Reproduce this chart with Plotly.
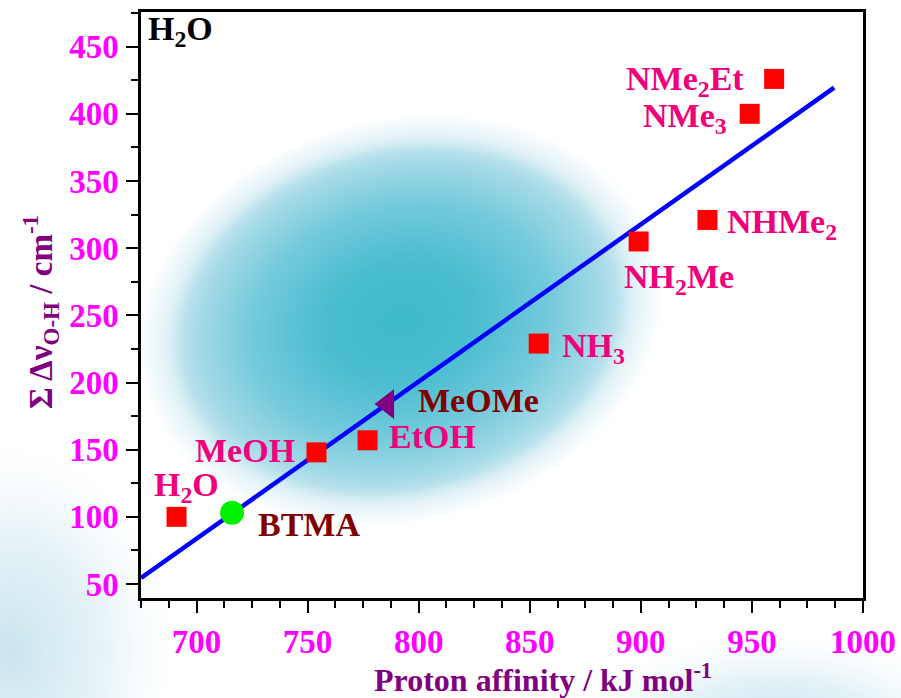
import base64, struct, zlib
import numpy as np
import plotly.graph_objects as go

# ---------------- data ----------------
names = ["H<sub>2</sub>O", "MeOH", "EtOH", "NH<sub>3</sub>", "NH<sub>2</sub>Me",
         "NHMe<sub>2</sub>", "NMe<sub>3</sub>", "NMe<sub>2</sub>Et"]
pa = [691, 754, 777, 854, 899, 930, 949, 960]
dnu = [100, 148, 157, 229, 305, 321, 400, 426]

btma_name = "BTMA"
btma_pa = [716]
btma_dnu = [103]

meome_name = "MeOMe"
meome_pa = [786]
meome_dnu = [184]

fit_pa = [675, 987]
fit_dnu = [54.5, 419.5]

x_ticks = [700, 750, 800, 850, 900, 950, 1000]
y_ticks = [50, 100, 150, 200, 250, 300, 350, 400, 450]

# label placement (pixels): anchor, xshift, yshift
label_pos = {
    "H<sub>2</sub>O": ("center", 10, 30),
    "MeOH": ("right", -20, 2),
    "EtOH": ("left", 19, 4),
    "NH<sub>3</sub>": ("left", 21, -4),
    "NH<sub>2</sub>Me": ("center", 40, -38),
    "NHMe<sub>2</sub>": ("left", 18, -4),
    "NMe<sub>3</sub>": ("right", -21, -4),
    "NMe<sub>2</sub>Et": ("right", -28, -2),
}

# ---------------- background image ----------------
W, H = 901, 698
yy, xx = np.mgrid[0:H, 0:W].astype(float)
img = np.ones((H, W, 3)) * 255.0


def blend_blob(img, cx, cy, rx, ry, ang, stops_d, stops_c, alpha_d, alpha_v):
    a = np.deg2rad(ang)
    dx, dy = xx - cx, yy - cy
    u = dx * np.cos(a) - dy * np.sin(a)
    v = dx * np.sin(a) + dy * np.cos(a)
    d = np.sqrt((u / rx) ** 2 + (v / ry) ** 2)
    col = np.stack([np.interp(d, stops_d, [c[i] for c in stops_c]) for i in range(3)], axis=-1)
    al = np.interp(d, alpha_d, alpha_v)[..., None]
    return img * (1 - al) + col * al


img = blend_blob(img, 400, 320, 250, 190, 14,
                 [0, 0.3, 0.6, 0.82, 0.95],
                 [(64, 185, 205), (74, 189, 208), (115, 202, 220), (165, 218, 231), (208, 235, 243)],
                 [0, 0.88, 1.06], [1, 1, 0])
img = blend_blob(img, 10, 650, 150, 190, 0,
                 [0, 1], [(202, 229, 238), (235, 246, 250)],
                 [0, 0.6, 1.05], [1, 0.75, 0])
img = blend_blob(img, 775, 735, 190, 95, 0,
                 [0, 1], [(195, 228, 238), (235, 246, 250)],
                 [0, 0.6, 1.05], [1, 0.75, 0])
img = np.clip(img, 0, 255).astype(np.uint8)


def to_png(arr):
    h, w, _ = arr.shape
    raw = b"".join(b"\x00" + arr[i].tobytes() for i in range(h))

    def chunk(t, d):
        return struct.pack(">I", len(d)) + t + d + struct.pack(">I", zlib.crc32(t + d) & 0xffffffff)

    return (b"\x89PNG\r\n\x1a\n" + chunk(b"IHDR", struct.pack(">IIBBBBB", w, h, 8, 2, 0, 0, 0))
            + chunk(b"IDAT", zlib.compress(raw, 9)) + chunk(b"IEND", b""))


bg_src = "data:image/png;base64," + base64.b64encode(to_png(img)).decode()

# ---------------- figure ----------------
L, R, T, B = 141, 38, 12, 100
PW, PH = W - L - R, H - T - B

label_font = dict(family="Liberation Serif", size=34, color="#f0007a", weight="bold")
dark_font = dict(family="Liberation Serif", size=34, color="#800000", weight="bold")

fig = go.Figure()
fig.add_trace(go.Scatter(x=fit_pa, y=fit_dnu, mode="lines",
                         line=dict(color="#0000ff", width=4.5), hoverinfo="skip"))
fig.add_trace(go.Scatter(x=pa, y=dnu, mode="markers",
                         marker=dict(symbol="square", size=20, color="#ff0000")))
fig.add_trace(go.Scatter(x=btma_pa, y=btma_dnu, mode="markers",
                         marker=dict(symbol="circle", size=24, color="#00ee00")))
fig.add_trace(go.Scatter(x=meome_pa, y=meome_dnu, mode="markers",
                         marker=dict(symbol="triangle-left", size=26, color="#800080")))

ann = []
for n, x, y in zip(names, pa, dnu):
    anc, xs, ys = label_pos[n]
    ann.append(dict(x=x, y=y, text=n, showarrow=False, xanchor=anc, yanchor="middle",
                    xshift=xs, yshift=ys, font=label_font))
ann.append(dict(x=btma_pa[0], y=btma_dnu[0], text=btma_name, showarrow=False, xanchor="left",
                yanchor="middle", xshift=24, yshift=-12, font=dark_font))
ann.append(dict(x=meome_pa[0], y=meome_dnu[0], text=meome_name, showarrow=False, xanchor="left",
                yanchor="middle", xshift=28, yshift=4, font=dark_font))

# corner label and axis titles
ann.append(dict(xref="paper", yref="paper", x=(146 - L) / PW, y=(598 - 31) / PH,
                text="H<sub>2</sub>O", showarrow=False, xanchor="left", yanchor="middle",
                font=dict(family="Liberation Serif", size=34, color="black", weight="bold")))
ann.append(dict(xref="paper", yref="paper", x=(543 - L) / PW, y=(598 - 678) / PH,
                text="Proton affinity / kJ mol<sup>-1</sup>", showarrow=False,
                xanchor="center", yanchor="middle",
                font=dict(family="Liberation Serif", size=32, color="#800080", weight="bold")))
ann.append(dict(xref="paper", yref="paper", x=(40 - L) / PW, y=(598 - 312) / PH,
                text="Σ Δν<sub>O-H</sub> / cm<sup>-1</sup>", showarrow=False, textangle=-90,
                xanchor="center", yanchor="middle",
                font=dict(family="Liberation Serif", size=33, color="#800080", weight="bold")))

axis_common = dict(showgrid=False, zeroline=False, showline=True, linecolor="black",
                   linewidth=2.5, mirror=True, ticks="outside", ticklen=12, tickwidth=2,
                   tickcolor="black", automargin=False,
                   tickfont=dict(family="Liberation Serif", size=33, color="#ff00ff", weight="bold"))

fig.update_layout(
    width=W, height=H, autosize=False,
    margin=dict(l=L, r=R, t=T, b=B, pad=0),
    paper_bgcolor="white", plot_bgcolor="rgba(0,0,0,0)",
    showlegend=False,
    annotations=ann,
    images=[dict(source=bg_src, xref="paper", yref="paper", x=-L / PW, y=1 + T / PH,
                 sizex=W / PW, sizey=H / PH, xanchor="left", yanchor="top",
                 sizing="stretch", layer="below")],
    xaxis=dict(range=[675, 1000], tickvals=x_ticks, ticklabelstandoff=1,
               minor=dict(dtick=12.5, tick0=675, ticks="outside", ticklen=7, tickwidth=2,
                          tickcolor="black"), **axis_common),
    yaxis=dict(range=[39.6, 475.8], tickvals=y_ticks, ticklabelstandoff=1,
               minor=dict(dtick=25, tick0=25, ticks="outside", ticklen=7, tickwidth=2,
                          tickcolor="black"), **axis_common),
)

fig.write_html("out.html")
